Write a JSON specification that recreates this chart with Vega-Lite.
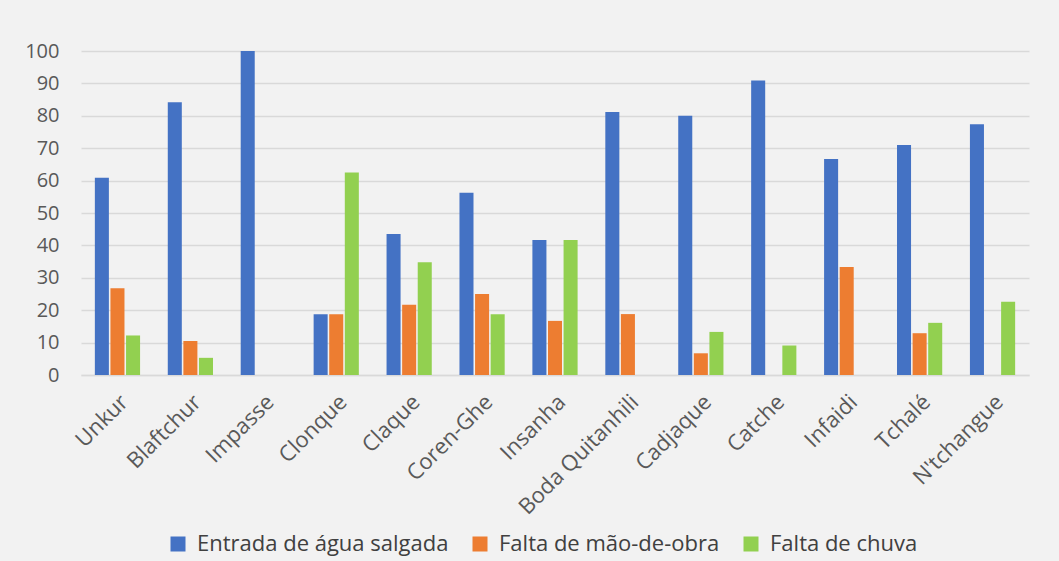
{
  "$schema": "https://vega.github.io/schema/vega-lite/v6.json",
  "width": 948,
  "height": 324,
  "autosize": {"type": "none"},
  "padding": {"left": 81, "top": 51, "right": 30, "bottom": 186},
  "background": "#F2F2F2",
  "config": {
    "view": {"stroke": null},
    "font": "Open Sans",
    "axis": {"labelFont": "Open Sans", "labelColor": "#595959", "labelFontSize": 22}
  },
  "data": {
    "values": [
      {"local": "Unkur", "causa": "Entrada de água salgada", "valor": 60.9},
      {"local": "Unkur", "causa": "Falta de mão-de-obra", "valor": 26.8},
      {"local": "Unkur", "causa": "Falta de chuva", "valor": 12.2},
      {"local": "Blaftchur", "causa": "Entrada de água salgada", "valor": 84.2},
      {"local": "Blaftchur", "causa": "Falta de mão-de-obra", "valor": 10.5},
      {"local": "Blaftchur", "causa": "Falta de chuva", "valor": 5.3},
      {"local": "Impasse", "causa": "Entrada de água salgada", "valor": 100},
      {"local": "Impasse", "causa": "Falta de mão-de-obra", "valor": 0},
      {"local": "Impasse", "causa": "Falta de chuva", "valor": 0},
      {"local": "Clonque", "causa": "Entrada de água salgada", "valor": 18.75},
      {"local": "Clonque", "causa": "Falta de mão-de-obra", "valor": 18.75},
      {"local": "Clonque", "causa": "Falta de chuva", "valor": 62.5},
      {"local": "Claque", "causa": "Entrada de água salgada", "valor": 43.5},
      {"local": "Claque", "causa": "Falta de mão-de-obra", "valor": 21.7},
      {"local": "Claque", "causa": "Falta de chuva", "valor": 34.8},
      {"local": "Coren-Ghe", "causa": "Entrada de água salgada", "valor": 56.25},
      {"local": "Coren-Ghe", "causa": "Falta de mão-de-obra", "valor": 25},
      {"local": "Coren-Ghe", "causa": "Falta de chuva", "valor": 18.75},
      {"local": "Insanha", "causa": "Entrada de água salgada", "valor": 41.7},
      {"local": "Insanha", "causa": "Falta de mão-de-obra", "valor": 16.7},
      {"local": "Insanha", "causa": "Falta de chuva", "valor": 41.7},
      {"local": "Boda Quitanhili", "causa": "Entrada de água salgada", "valor": 81.2},
      {"local": "Boda Quitanhili", "causa": "Falta de mão-de-obra", "valor": 18.8},
      {"local": "Boda Quitanhili", "causa": "Falta de chuva", "valor": 0},
      {"local": "Cadjaque", "causa": "Entrada de água salgada", "valor": 80},
      {"local": "Cadjaque", "causa": "Falta de mão-de-obra", "valor": 6.7},
      {"local": "Cadjaque", "causa": "Falta de chuva", "valor": 13.3},
      {"local": "Catche", "causa": "Entrada de água salgada", "valor": 90.9},
      {"local": "Catche", "causa": "Falta de mão-de-obra", "valor": 0},
      {"local": "Catche", "causa": "Falta de chuva", "valor": 9.1},
      {"local": "Infaidi", "causa": "Entrada de água salgada", "valor": 66.7},
      {"local": "Infaidi", "causa": "Falta de mão-de-obra", "valor": 33.3},
      {"local": "Infaidi", "causa": "Falta de chuva", "valor": 0},
      {"local": "Tchalé", "causa": "Entrada de água salgada", "valor": 71},
      {"local": "Tchalé", "causa": "Falta de mão-de-obra", "valor": 12.9},
      {"local": "Tchalé", "causa": "Falta de chuva", "valor": 16.1},
      {"local": "N'tchangue", "causa": "Entrada de água salgada", "valor": 77.4},
      {"local": "N'tchangue", "causa": "Falta de mão-de-obra", "valor": 0},
      {"local": "N'tchangue", "causa": "Falta de chuva", "valor": 22.6}
    ]
  },
  "mark": {"type": "bar"},
  "encoding": {
    "x": {
      "field": "local",
      "type": "nominal",
      "sort": ["Unkur", "Blaftchur", "Impasse", "Clonque", "Claque", "Coren-Ghe", "Insanha", "Boda Quitanhili", "Cadjaque", "Catche", "Infaidi", "Tchalé", "N'tchangue"],
      "scale": {"paddingInner": 0.38, "paddingOuter": 0.19},
      "axis": {
        "title": null,
        "labelAngle": -45,
        "ticks": false,
        "domain": true,
        "domainColor": "#D9D9D9",
        "domainWidth": 1.5,
        "labelPadding": 16,
        "labelOffset": 0
      }
    },
    "xOffset": {
      "field": "causa",
      "type": "nominal",
      "sort": ["Entrada de água salgada", "Falta de mão-de-obra", "Falta de chuva"],
      "scale": {"paddingInner": 0.1}
    },
    "y": {
      "field": "valor",
      "type": "quantitative",
      "scale": {"domain": [0, 100], "nice": false},
      "axis": {
        "title": null,
        "values": [0, 10, 20, 30, 40, 50, 60, 70, 80, 90, 100],
        "domain": false,
        "ticks": false,
        "labelFontSize": 20,
        "labelPadding": 22,
        "gridColor": "#D9D9D9",
        "gridWidth": 1.5
      }
    },
    "color": {
      "field": "causa",
      "type": "nominal",
      "scale": {
        "domain": ["Entrada de água salgada", "Falta de mão-de-obra", "Falta de chuva"],
        "range": ["#4472C4", "#ED7D31", "#92D050"]
      },
      "legend": {
        "title": null,
        "orient": "none",
        "direction": "horizontal",
        "legendX": 86,
        "legendY": 482,
        "symbolType": "square",
        "symbolSize": 225,
        "symbolStrokeWidth": 0,
        "labelFontSize": 22,
        "labelFont": "Open Sans",
        "labelColor": "#404040",
        "labelLimit": 0,
        "columnPadding": 20,
        "labelOffset": 8
      }
    }
  }
}
